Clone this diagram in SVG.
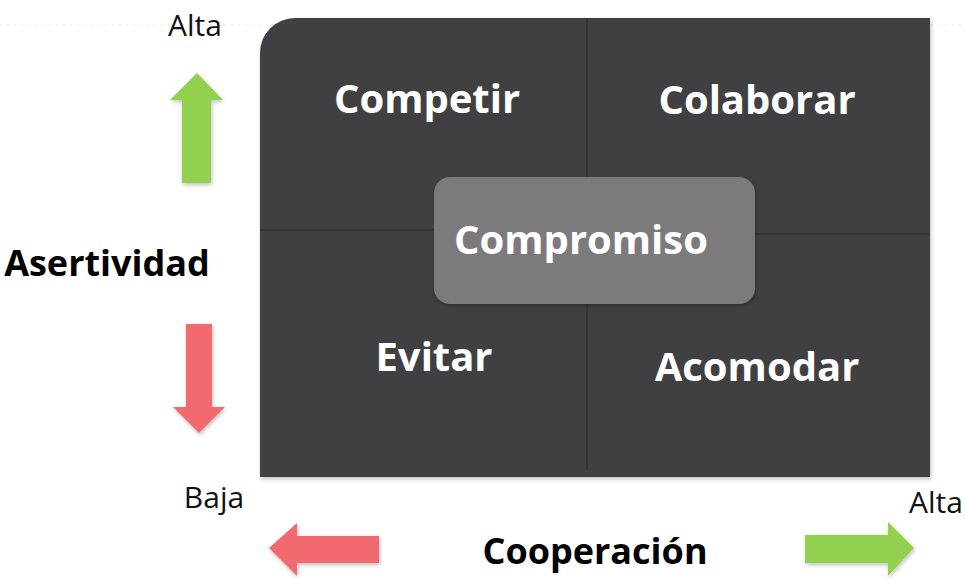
<svg xmlns="http://www.w3.org/2000/svg" width="965" height="585" viewBox="0 0 965 585">
<defs>
<filter id="sh" x="-20%" y="-20%" width="140%" height="140%">
<feDropShadow dx="1" dy="2" stdDeviation="2" flood-color="#000" flood-opacity="0.25"/>
</filter>
<style>
.q{fill:#414042}
.lbl{font-family:"Open Sans","Liberation Sans",sans-serif;font-weight:bold;font-size:40px;fill:#ffffff;text-anchor:middle}
.ax{font-family:"Open Sans","Liberation Sans",sans-serif;font-weight:bold;font-size:36px;fill:#000000;text-anchor:middle}
.lv{font-family:"Open Sans","Liberation Sans",sans-serif;font-size:30px;fill:#111111;text-anchor:middle}
.g{fill:#92d050}
.r{fill:#f26b6f}
.div{stroke:#353436;stroke-width:2;fill:none}
</style>
</defs>
<rect width="965" height="585" fill="#ffffff"/>
<line x1="0" y1="25" x2="965" y2="25" stroke="#f0dcdc" stroke-width="1" stroke-dasharray="2 5"/>
<g id="matrix" filter="url(#sh)">
<path class="q" d="M295 18 H930 V477 H260 V53 A35 35 0 0 1 295 18 Z"/>
</g>
<g id="dividers">
<line class="div" x1="587" y1="18" x2="587" y2="470"/>
<line class="div" x1="260" y1="230" x2="587" y2="230"/>
<line class="div" x1="587" y1="234" x2="930" y2="234"/>
</g>
<g id="competir"><text class="lbl" x="427" y="113">Competir</text></g>
<g id="colaborar"><text class="lbl" x="757" y="114">Colaborar</text></g>
<g id="evitar"><text class="lbl" x="434" y="371">Evitar</text></g>
<g id="acomodar"><text class="lbl" x="757" y="381">Acomodar</text></g>
<g id="compromiso">
<rect x="434" y="177" width="321" height="127" rx="16" fill="#7c7a7d" filter="url(#sh)"/>
<text class="lbl" x="581" y="254">Compromiso</text>
</g>
<g id="connectors">
<polygon class="g" filter="url(#sh)" points="197,73 223,100 211,100 211,183 182,183 182,100 170,100"/>
<polygon class="r" filter="url(#sh)" points="186,324 212,324 212,407 225,407 199,433 173,407 186,407"/>
<polygon class="r" filter="url(#sh)" points="269,548 297,523 297,536 379,536 379,563 297,563 297,576"/>
<polygon class="g" filter="url(#sh)" points="805,535 888,535 888,522 914,548 888,576 888,563 805,563"/>
</g>
<g id="labels">
<text class="lv" x="195" y="36">Alta</text>
<text class="ax" x="107" y="276">Asertividad</text>
<text class="lv" x="214" y="508">Baja</text>
<text class="ax" x="595" y="564">Cooperación</text>
<text class="lv" x="936" y="513">Alta</text>
</g>
</svg>
